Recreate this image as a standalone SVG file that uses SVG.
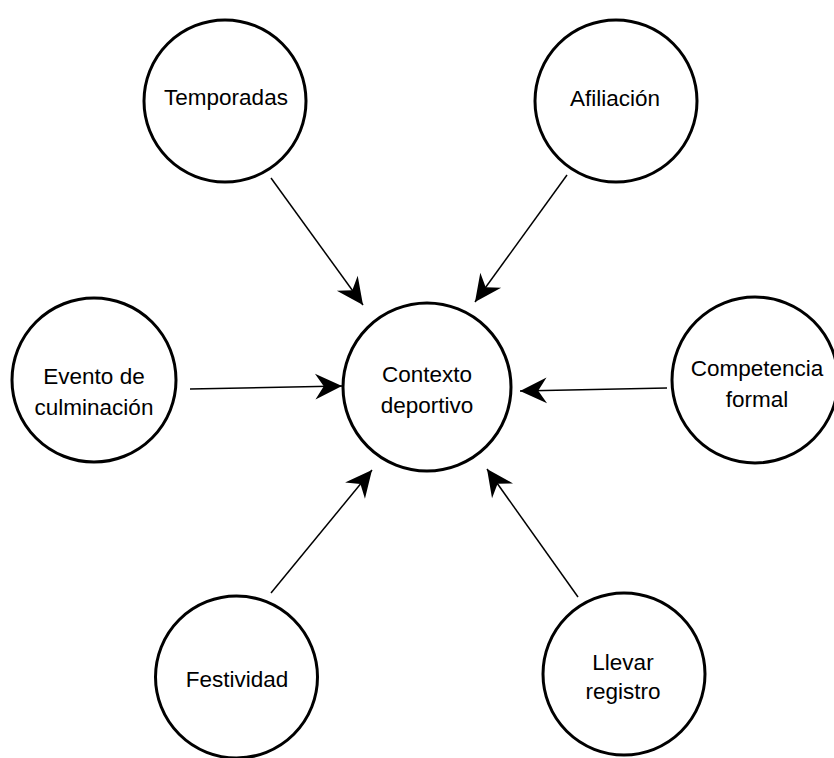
<svg xmlns="http://www.w3.org/2000/svg" width="834" height="758" viewBox="0 0 834 758">
<style>
.node circle{fill:#fff;stroke:#000;stroke-width:3}
.node text{font-family:"Liberation Sans","Noto Sans",sans-serif;font-size:22.5px;fill:#000;text-anchor:middle}
.conn line{stroke:#000;stroke-width:1.5;marker-end:url(#ah)}
</style>
<defs>
<marker id="ah" markerUnits="userSpaceOnUse" markerWidth="30" markerHeight="30" viewBox="-26 -13 28 26" refX="0" refY="0" orient="auto">
<path d="M0,0 L-25,-12 L-17,0 L-25,12 Z" fill="#000"/>
</marker>
</defs>
<rect width="834" height="758" fill="#fff"/>
<g class="conn">
<line x1="271" y1="178" x2="363" y2="305"/>
<line x1="567" y1="175" x2="475" y2="302"/>
<line x1="190" y1="389" x2="342" y2="386"/>
<line x1="667" y1="388" x2="520" y2="391"/>
<line x1="271" y1="593" x2="372" y2="470"/>
<line x1="578" y1="597" x2="487" y2="469"/>
</g>
<g id="contexto" class="node"><circle cx="427" cy="387" r="84"/><text x="427" y="382">Contexto</text><text x="427" y="413">deportivo</text></g>
<g id="temporadas" class="node"><circle cx="225" cy="101" r="81"/><text x="226" y="105">Temporadas</text></g>
<g id="afiliacion" class="node"><circle cx="616" cy="101" r="81"/><text x="615" y="106">Afiliación</text></g>
<g id="evento" class="node"><circle cx="94" cy="380" r="82"/><text x="94" y="384">Evento de</text><text x="94" y="415">culminación</text></g>
<g id="competencia" class="node"><circle cx="755" cy="380" r="83"/><text x="757" y="376">Competencia</text><text x="757" y="407">formal</text></g>
<g id="festividad" class="node"><circle cx="236.5" cy="677" r="81"/><text x="237" y="687">Festividad</text></g>
<g id="llevar" class="node"><circle cx="624" cy="674" r="81"/><text x="623" y="670">Llevar</text><text x="623" y="699">registro</text></g>
</svg>
